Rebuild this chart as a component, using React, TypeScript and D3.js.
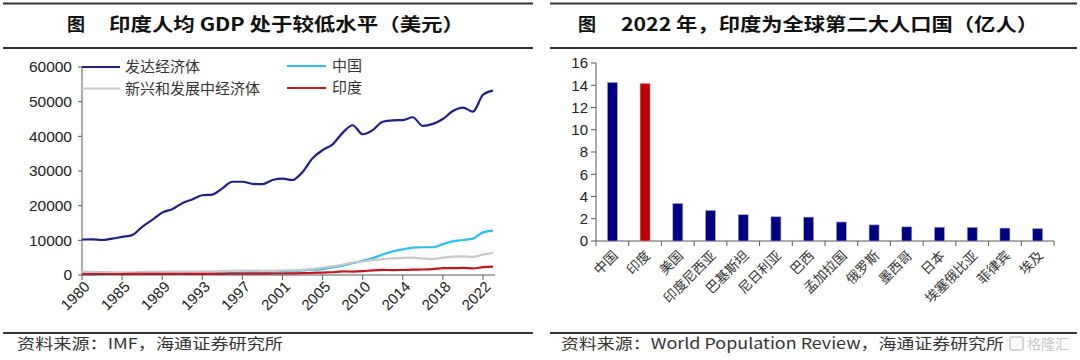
import React from "react";
import * as d3 from "d3";

// ---------- Left chart data (GDP per capita, USD) ----------
const yearTickLabels = ["1980", "1985", "1989", "1993", "1997", "2001", "2005", "2010", "2014", "2018", "2022"];
const developed = [10240, 10300, 10100, 10500, 11000, 11500, 13900, 15900, 18000, 19000, 20700, 21800, 23000, 23200, 25000, 26900, 26900, 26300, 26200, 27400, 27800, 27400, 29700, 33700, 36000, 37700, 41000, 43200, 40600, 41800, 44200, 44600, 44700, 45500, 43000, 43600, 45000, 47300, 48300, 47100, 52000, 53200];
const china = [200, 200, 200, 300, 300, 300, 280, 250, 280, 310, 320, 330, 360, 370, 470, 610, 710, 780, 830, 870, 960, 1050, 1290, 1510, 1700, 2200, 2700, 3400, 4100, 4900, 5900, 6800, 7400, 7900, 8000, 8000, 8900, 9700, 10100, 10500, 12300, 12800];
const emerging = [900, 900, 850, 800, 800, 800, 850, 900, 950, 950, 1000, 1000, 1000, 1050, 1100, 1200, 1300, 1300, 1200, 1200, 1300, 1350, 1500, 1750, 2100, 2500, 3000, 3600, 3900, 4300, 4600, 4800, 4950, 5000, 4700, 4600, 5000, 5300, 5350, 5200, 5900, 6400];
const india = [270, 280, 290, 290, 280, 300, 310, 330, 350, 340, 360, 310, 320, 300, 340, 370, 400, 410, 410, 440, 440, 460, 520, 610, 710, 800, 1020, 990, 1100, 1350, 1450, 1430, 1440, 1560, 1590, 1710, 1960, 1970, 2050, 1910, 2250, 2400];
const gdpTicks = [0, 10000, 20000, 30000, 40000, 50000, 60000];
const seriesNames = ["发达经济体", "中国", "新兴和发展中经济体", "印度"];
const seriesColors = ["#1f1f86", "#27c3f0", "#c8c8c8", "#c4161c"];

// ---------- Right chart data (population 2022, 亿人) ----------
const countries = ["中国", "印度", "美国", "印度尼西亚", "巴基斯坦", "尼日利亚", "巴西", "孟加拉国", "俄罗斯", "墨西哥", "日本", "埃塞俄比亚", "菲律宾", "埃及"];
const population = [14.26, 14.17, 3.38, 2.75, 2.36, 2.18, 2.15, 1.71, 1.45, 1.27, 1.24, 1.23, 1.16, 1.11];
const popTicks = [0, 2, 4, 6, 8, 10, 12, 14, 16];

const CJK = "'Noto Sans CJK SC', 'Noto Sans', sans-serif";
const LAT = "'Liberation Sans', Arial, sans-serif";
const AXIS = "#595959";
const TXT = "#222";

export default function App() {
  // left chart scales
  const n = developed.length;
  const x = d3.scaleLinear().domain([0, n - 1]).range([82, 493]);
  const y = d3.scaleLinear().domain([0, 60000]).range([275, 67]);
  const line = d3
    .line<number>()
    .x((_, i) => x(i))
    .y((v) => y(v))
    .curve(d3.curveMonotoneX);
  const series = [developed, china, emerging, india];
  const tickEvery = 4;

  // right chart scales
  const xb = d3.scaleBand<string>().domain(countries).range([596, 1054]);
  const yb = d3.scaleLinear().domain([0, 16]).range([241, 63]);
  const barW = 10;

  return (
    <svg
      width={1080}
      height={360}
      style={{ position: "fixed", left: 0, top: 0, background: "#fff" }}
    >
      <rect x={0} y={0} width={1080} height={360} fill="#fff" />

      {/* ---------- header rules and titles ---------- */}
      <rect x={3} y={2.5} width={530} height={2} fill="#333" />
      <rect x={3} y={47} width={530} height={2} fill="#333" />
      <rect x={550} y={2.5} width={527} height={2} fill="#333" />
      <rect x={550} y={47} width={527} height={2} fill="#333" />
      <text x={67} y={31} fontFamily={CJK} fontWeight={700} fontSize={18} fill="#111">图</text>
      <text x={109} y={31} fontFamily={CJK} fontWeight={700} fontSize={18} fill="#111" textLength={355} lengthAdjust="spacingAndGlyphs">
        印度人均 GDP 处于较低水平（美元）
      </text>
      <text x={578} y={31} fontFamily={CJK} fontWeight={700} fontSize={18} fill="#111">图</text>
      <text x={621} y={31} fontFamily={CJK} fontWeight={700} fontSize={18} fill="#111" textLength={417} lengthAdjust="spacingAndGlyphs">
        2022 年，印度为全球第二大人口国（亿人）
      </text>

      {/* ---------- left chart ---------- */}
      <g>
        {gdpTicks.map((t) => (
          <g key={t}>
            <line x1={78} x2={82} y1={y(t)} y2={y(t)} stroke={AXIS} />
            <text x={72} y={y(t)} dy="0.35em" textAnchor="end" fontFamily={LAT} fontSize={15.5} fill={TXT}>
              {t}
            </text>
          </g>
        ))}
        <line x1={82} x2={82} y1={y(60000)} y2={y(0)} stroke={AXIS} />
        <line x1={82} x2={495} y1={y(0)} y2={y(0)} stroke={AXIS} />
        {yearTickLabels.map((lab, k) => {
          const xi = x(k * tickEvery);
          return (
            <g key={lab}>
              <line x1={xi} x2={xi} y1={275} y2={280} stroke={AXIS} />
              <text
                transform={`translate(${xi + 5},${284}) rotate(-45)`}
                dy="0.35em"
                textAnchor="end"
                fontFamily={LAT}
                fontSize={15}
                fill={TXT}
              >
                {lab}
              </text>
            </g>
          );
        })}

        {/* legend */}
        {[0, 2].map((si, r) => (
          <g key={si}>
            <line x1={82} x2={120} y1={67 + r * 21.5} y2={67 + r * 21.5} stroke={seriesColors[si]} strokeWidth={2} />
            <text x={125} y={67 + r * 21.5} dy="0.36em" fontFamily={CJK} fontSize={15} fill="#333">
              {seriesNames[si]}
            </text>
          </g>
        ))}
        {[1, 3].map((si, r) => (
          <g key={si}>
            <line x1={287} x2={326} y1={66 + r * 22} y2={66 + r * 22} stroke={seriesColors[si]} strokeWidth={2} />
            <text x={332} y={66 + r * 22} dy="0.36em" fontFamily={CJK} fontSize={15} fill="#333">
              {seriesNames[si]}
            </text>
          </g>
        ))}

        {series.map((s, i) => (
          <path key={i} d={line(s) || ""} fill="none" stroke={seriesColors[i]} strokeWidth={2.2} strokeLinejoin="round" />
        ))}
      </g>

      {/* ---------- right chart ---------- */}
      <g>
        {popTicks.map((t) => (
          <g key={t}>
            <line x1={591} x2={596} y1={yb(t)} y2={yb(t)} stroke={AXIS} />
            <text x={588} y={yb(t)} dy="0.35em" textAnchor="end" fontFamily={LAT} fontSize={15} fill={TXT}>
              {t}
            </text>
          </g>
        ))}
        <line x1={596} x2={596} y1={yb(16)} y2={yb(0)} stroke={AXIS} />
        <line x1={596} x2={1054} y1={yb(0)} y2={yb(0)} stroke={AXIS} />
        {countries.map((c) => (
          <line key={"t" + c} x1={xb(c)!} x2={xb(c)!} y1={241} y2={246} stroke={AXIS} />
        ))}
        <line x1={1054} x2={1054} y1={241} y2={246} stroke={AXIS} />
        {countries.map((c, i) => {
          const cx = xb(c)! + xb.bandwidth() / 2;
          return (
            <g key={c}>
              <rect
                x={cx - barW / 2}
                y={yb(population[i])}
                width={barW}
                height={yb(0) - yb(population[i])}
                fill={c === "印度" ? "#c00000" : "#000080"}
                stroke={c === "印度" ? "#e6a0a0" : "#a8a8d8"}
                strokeWidth={0.6}
              />
              <text
                transform={`translate(${cx + 3},${253}) rotate(-45)`}
                dy="0.35em"
                textAnchor="end"
                fontFamily={CJK}
                fontSize={13.5}
                fill="#333"
              >
                {c}
              </text>
            </g>
          );
        })}
      </g>

      {/* ---------- footer ---------- */}
      <rect x={3} y={332} width={530} height={2} fill="#333" />
      <rect x={550} y={332} width={527} height={2} fill="#333" />
      <text x={17} y={349} fontFamily={CJK} fontSize={15} fill="#333" textLength={266} lengthAdjust="spacingAndGlyphs">
        资料来源：IMF，海通证券研究所
      </text>
      <text x={561} y={349} fontFamily={CJK} fontSize={15} fill="#333" textLength={443} lengthAdjust="spacingAndGlyphs">
        资料来源：World Population Review，海通证券研究所
      </text>
      <rect x={1010} y={337} width={13} height={13} fill="none" stroke="#c8c8c8" strokeWidth={1.5} rx={2} />
      <text x={1027} y={349} fontFamily={CJK} fontSize={14} fill="#c8c8c8">格隆汇</text>
    </svg>
  );
}
